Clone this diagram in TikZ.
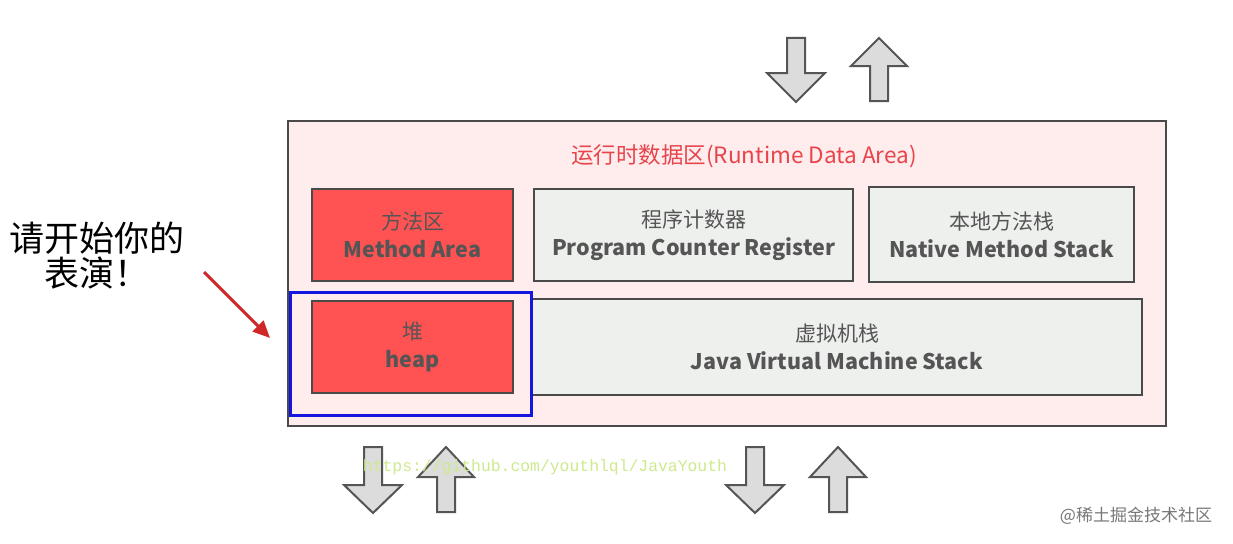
\documentclass[tikz,border=0pt]{standalone}
\usepackage{fontspec}
\setmainfont{Noto Sans CJK SC}
\newfontfamily\cjkfont{Noto Sans CJK SC}
\newfontfamily\monofont{Liberation Mono}
\usetikzlibrary{arrows.meta}
\definecolor{boxred}{HTML}{FF5252}
\definecolor{boxgray}{HTML}{EEF0EE}
\definecolor{outerfill}{HTML}{FFEDED}
\definecolor{edge}{HTML}{4A4A4A}
\definecolor{txtgray}{HTML}{555555}
\definecolor{titlered}{HTML}{E8444C}
\definecolor{bluebox}{HTML}{1515E0}
\definecolor{arrfill}{HTML}{DCDCDC}
\definecolor{arredge}{HTML}{555555}
\definecolor{redarrow}{HTML}{D02828}
\definecolor{ghgreen}{HTML}{CDEA8E}
\newcommand\dnarr[4]{% cx, top, headstart, bottom
  \draw[blockarrow] (#1-9,#2) -- (#1+9,#2) -- (#1+9,#3) -- (#1+29,#3) -- (#1,#4) -- (#1-29,#3) -- (#1-9,#3) -- cycle;}
\newcommand\uparr[4]{% cx, top, headbase, bottom
  \draw[blockarrow] (#1,#2) -- (#1+28,#3) -- (#1+9,#3) -- (#1+9,#4) -- (#1-9,#4) -- (#1-9,#3) -- (#1-28,#3) -- cycle;}
\newcommand\entext[1]{{\fontsize{21.5}{28}\selectfont\bfseries #1}}
\tikzset{
  blockarrow/.style={draw=arredge, fill=arrfill, line width=2pt, line join=miter},
  areabox/.style={draw=edge, line width=2.4pt, text=txtgray, align=center, inner sep=0pt,
    font=\fontsize{21}{28}\selectfont},
  redbox/.style={areabox, fill=boxred},
  graybox/.style={areabox, fill=boxgray},
}
\begin{document}
\begin{tikzpicture}[x=1pt,y=-1pt]
\useasboundingbox (0,0) rectangle (1233,543);
\fill[white] (0,0) rectangle (1233,543);
% outer area
\node[draw=edge, line width=2pt, fill=outerfill, minimum width=878pt, minimum height=305pt, inner sep=0pt] (outer) at (727,273.5) {};
\node[text=titlered, font=\fontsize{22.5}{24}\selectfont] (title) at (744,156) {运行时数据区(Runtime Data Area)};
% boxes
\node[redbox, minimum width=201pt, minimum height=92pt] (method) at (412.5,235) {方法区\\\entext{Method Area}};
\node[graybox, minimum width=319pt, minimum height=92pt] (pc) at (693.5,235) {程序计数器\\\entext{Program Counter Register}};
\node[graybox, minimum width=265pt, minimum height=95pt] (native) at (1001.5,234.5) {本地方法栈\\\entext{Native Method Stack}};
\node[redbox, minimum width=201pt, minimum height=92pt] (heap) at (412.5,347) {堆\\\entext{heap}};
\node[graybox, minimum width=610pt, minimum height=96pt] (jvm) at (837,347) {虚拟机栈\\\entext{Java Virtual Machine Stack}};
\node[draw=bluebox, line width=3pt, minimum width=241pt, minimum height=123pt, inner sep=0pt] (blue) at (410.5,353.5) {};
% block arrows
\dnarr{796}{38}{73}{102}
\uparr{879}{38}{66}{101}
\dnarr{373}{447}{485}{513}
\uparr{446}{447}{477}{512}
\dnarr{755}{447}{485}{513}
\uparr{838}{447}{477}{512}
% left text
\node[font=\fontsize{35}{35}\selectfont, text=black, align=center] (perform) at (97,256) {请开始你的\\表演！};
\coordinate (ra1) at (204,272);
\coordinate (ra2) at (270,338);
\draw[redarrow, line width=3pt, -{Triangle[length=17pt,width=15pt]}] (ra1) -- (ra2);
% watermarks
\node[text=ghgreen, font=\monofont\fontsize{16.4}{18}\selectfont] (gh) at (545,467) {https://github.com/youthlql/JavaYouth};
\node[text=txtgray!80, font=\fontsize{17}{19}\selectfont] (wm) at (1136,516) {@稀土掘金技术社区};
\end{tikzpicture}
\end{document}
